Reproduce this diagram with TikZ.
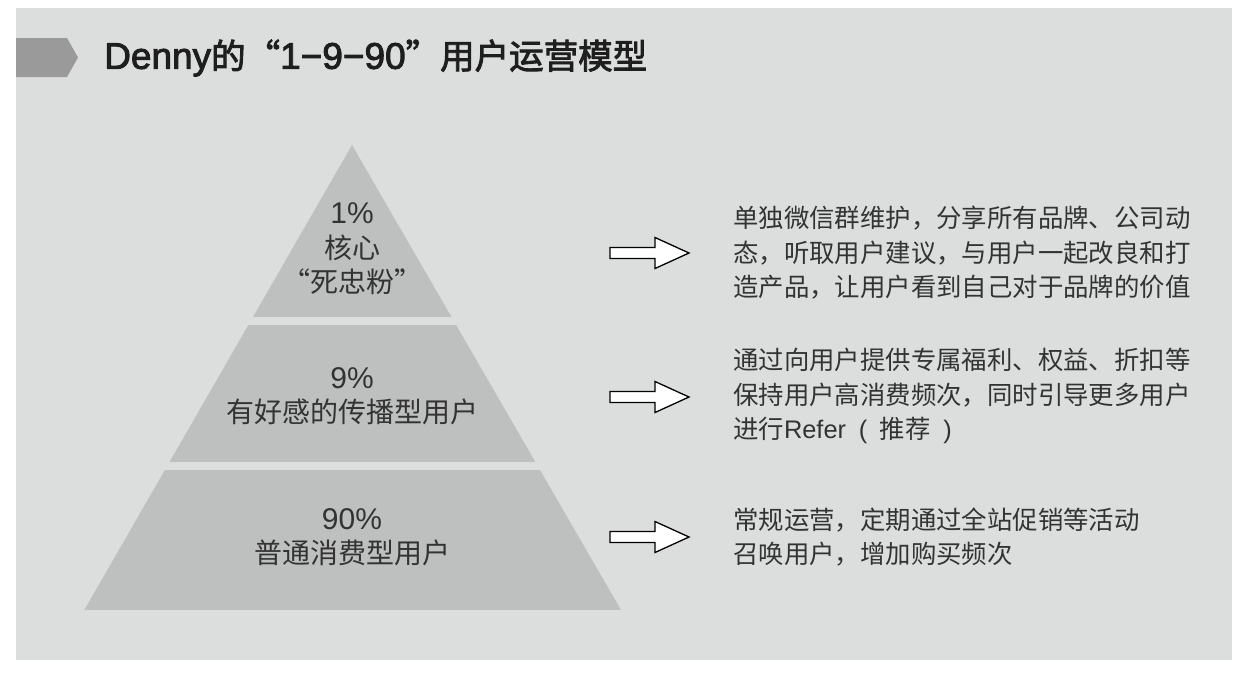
\documentclass[tikz,border=0pt]{standalone}
\usepackage{fontspec}
\setmainfont{Noto Sans CJK SC}
\newfontfamily\lat{Liberation Sans}
\newfontfamily\ttlcjk{Noto Sans CJK SC}[FakeBold=2.5]
\newfontfamily\ttllat{Liberation Sans}[FakeBold=2.5]
\definecolor{bgc}{HTML}{DCDDDD}
\definecolor{pyr}{HTML}{BEBFBF}
\definecolor{tabc}{HTML}{9A9A9A}
\definecolor{txt}{HTML}{333333}
\definecolor{ttl}{HTML}{1E1E1E}
\tikzset{
  pyrtext/.style={align=center, text=txt, font=\fontsize{28}{34.5}\selectfont, inner sep=0pt},
  desc/.style={align=left, anchor=west, text=txt, font=\fontsize{25.4}{34.5}\selectfont, inner sep=0pt},
  blockarrow/.style={draw=black, fill=white, line width=1.3pt, line join=miter},
}
\begin{document}
\begin{tikzpicture}[x=1pt,y=-1pt]
\useasboundingbox (0,0) rectangle (1246,673);
\fill[white] (0,0) rectangle (1246,673);
\fill[bgc] (16,8) rectangle (1232,660);
% title tab
\fill[tabc] (16,38) -- (67,38) -- (78,57.5) -- (67,77) -- (16,77) -- cycle;
\node[anchor=west, inner sep=0pt, text=ttl, font=\fontsize{34.5}{36}\ttlcjk] (title) at (104,58)
  {{\ttllat\fontsize{37}{36}\selectfont Denny}的“{\ttllat\fontsize{37}{36}\selectfont 1−9−90}”用户运营模型};
% pyramid
\begin{scope}
\clip (352,145) -- (621,610) -- (84.3,610) -- cycle;
\fill[pyr] (0,140) rectangle (700,317);
\fill[pyr] (0,325) rectangle (700,462);
\fill[pyr] (0,470) rectangle (700,610);
\end{scope}
\node[pyrtext] (top) at (352,249) {{\lat\fontsize{30}{34.5}\selectfont 1\%}\\核心\\“死忠粉”};
\node[pyrtext] (mid) at (352,396) {{\lat\fontsize{30}{34.5}\selectfont 9\%}\\有好感的传播型用户};
\node[pyrtext] (bot) at (352,537) {{\lat\fontsize{30}{34.5}\selectfont 90\%}\\普通消费型用户};
% arrows
\foreach \y/\n in {253/a1, 397/a2, 537/a3}{
  \draw[blockarrow] (610,\y-5.5) -- (655,\y-5.5) -- (655,\y-15.5) -- (689,\y) -- (655,\y+15.5) -- (655,\y+5.5) -- (610,\y+5.5) -- cycle;
}
% descriptions
\node[desc] (d1) at (733,253) {单独微信群维护，分享所有品牌、公司动\\态，听取用户建议，与用户一起改良和打\\造产品，让用户看到自己对于品牌的价值};
\node[desc] (d2) at (733,396) {通过向用户提供专属福利、权益、折扣等\\保持用户高消费频次，同时引导更多用户\\进行{\lat Refer\enspace(\enspace}推荐{\lat\enspace)}};
\node[desc] (d3) at (733,537) {常规运营，定期通过全站促销等活动\\召唤用户，增加购买频次};
\end{tikzpicture}
\end{document}
